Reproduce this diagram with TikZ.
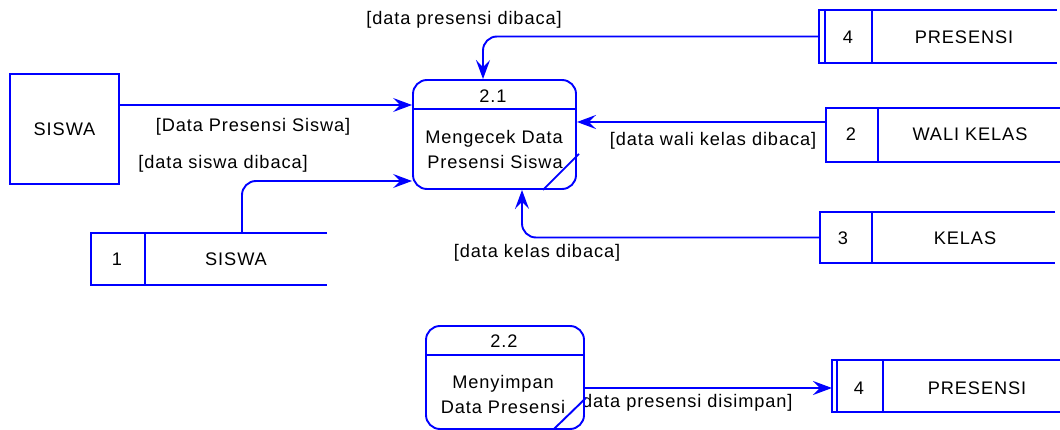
\documentclass[tikz,border=0pt]{standalone}
\usepackage{fontspec}
\setmainfont{Liberation Sans}[LetterSpace=5]
\usetikzlibrary{arrows.meta}
\definecolor{dfdblue}{RGB}{0,0,255}
\newcommand\dfdfont{\fontsize{18.2}{22}\selectfont}

\begin{document}
\begin{tikzpicture}[x=1pt,y=-1pt,
  every node/.style={font=\dfdfont, text=black, inner sep=0pt},
  line/.style={draw=dfdblue, line width=1.9pt},
  flow/.style={line, rounded corners=14pt,
    -{Stealth[length=19pt,width=14pt,inset=7pt]}},
  proc/.style={line, rounded corners=14pt, fill=white},
  store/.style={minimum width=#1, outer sep=0pt},
]
\useasboundingbox (0,0) rectangle (1060,430);

% external entity
\node[line, minimum width=109pt, minimum height=110pt] (siswa) at (64.5,129) {SISWA};

% data stores (frame nodes; outlines drawn below)
\node[store=238pt, minimum height=53pt] (ds4t) at (938,36.5) {};
\node[store=234pt, minimum height=54pt] (ds2) at (943,135) {};
\node[store=235pt, minimum height=51pt] (ds3) at (937.5,237.5) {};
\node[store=236pt, minimum height=52pt] (ds1) at (209,259) {};
\node[store=228pt, minimum height=52pt] (ds4b) at (946,386) {};

\foreach \s/\d in {ds4t/53pt, ds2/52pt, ds3/52pt, ds1/54pt, ds4b/51pt}{
  \draw[line] (\s.north east) -- (\s.north west) -- (\s.south west) -- (\s.south east);
  \draw[line] ([xshift=\d]\s.north west) -- ([xshift=\d]\s.south west);
}
\draw[line] ([xshift=6pt]ds4t.north west) -- ([xshift=6pt]ds4t.south west);
\draw[line] ([xshift=5pt]ds4b.north west) -- ([xshift=5pt]ds4b.south west);

\node (n4t) at (848,37) {4};
\node (t4t) at (964,37) {PRESENSI};
\node (n2) at (851,134) {2};
\node (t2) at (970,134) {WALI KELAS};
\node (n3) at (843,238) {3};
\node (t3) at (965,238) {KELAS};
\node (n1) at (117,259) {1};
\node (t1) at (236,259) {SISWA};
\node (n4b) at (859,388) {4};
\node (t4b) at (977,388) {PRESENSI};

% flow labels
\node (l1) at (464,20) {[data presensi dibaca]};
\node (l2) at (253,127) {[Data Presensi Siswa]};
\node (l3) at (223,164) {[data siswa dibaca]};
\node (l4) at (713,141) {[data wali kelas dibaca]};
\node (l5) at (537,253) {[data kelas dibaca]};
\node[anchor=west] (l6) at (576,403) {[data presensi disimpan]};

% process 2.1
\node[proc, minimum width=163pt, minimum height=109pt] (p21) at (494.5,134.5) {};
\draw[line] ([yshift=-30pt]p21.north west) -- ([yshift=-30pt]p21.north east);
\node (p21id) at (493,96) {2.1};
\node[anchor=base] (p21a) at (494,144) {Mengecek Data};
\node[anchor=base] (p21b) at (495,169) {Presensi Siswa};
\draw[line] ([xshift=-34pt]p21.south east) -- ([xshift=2pt,yshift=36pt]p21.south east);

% process 2.2
\node[proc, minimum width=158pt, minimum height=103pt] (p22) at (505,377.5) {};
\draw[line] ([yshift=-30pt]p22.north west) -- ([yshift=-30pt]p22.north east);
\node (p22id) at (504,341) {2.2};
\node[anchor=base] (p22a) at (503,388) {Menyimpan};
\node[anchor=base] (p22b) at (503,413) {Data Presensi};
\draw[line] ([xshift=-32pt]p22.south east) -- ([xshift=1pt,yshift=32pt]p22.south east);

% data flows
\draw[flow] ([yshift=24pt]siswa.east) coordinate (f1) -- (f1 -| p21.west);
\draw[flow] ([xshift=33pt]ds1.north) |- ([yshift=-46.5pt]p21.west);
\draw[flow] (ds4t.west) -| ([xshift=-11.5pt]p21.north);
\draw[flow] ([yshift=13pt]ds2.west) coordinate (f2) -- (f2 -| p21.east);
\draw[flow] (ds3.west) -| ([xshift=27.5pt]p21.south);
\draw[flow] ([yshift=-10.5pt]p22.east) coordinate (f3) -- (f3 -| ds4b.west);
\end{tikzpicture}
\end{document}
